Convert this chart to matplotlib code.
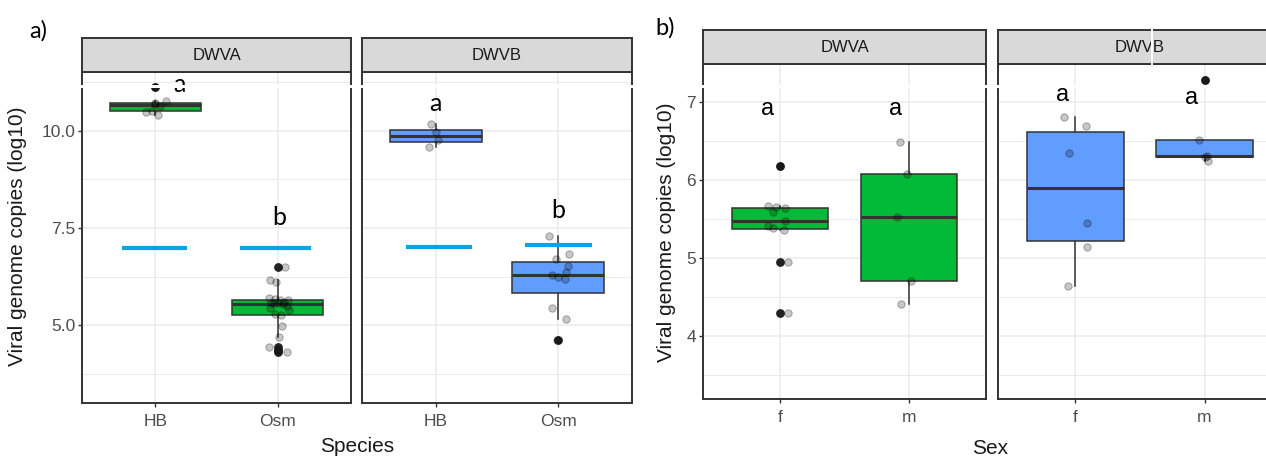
import matplotlib.pyplot as plt
from matplotlib.patches import Rectangle

# ---------------- data (log10 viral genome copies) ----------------
species = ['HB', 'Osm']
sexes = ['f', 'm']

# a) by species
a_dwva_hb = [11.13, 10.77, 10.71, 10.70, 10.63, 10.52, 10.48, 10.40]
a_dwva_osm = [6.49, 6.15, 6.11, 5.70, 5.68, 5.66, 5.64, 5.60, 5.58, 5.57, 5.56,
              5.55, 5.50, 5.44, 5.38, 5.28, 5.26, 4.97, 4.70, 4.44, 4.35, 4.31]
a_dwvb_hb = [10.18, 9.98, 9.77, 9.57]
a_dwvb_osm = [7.29, 6.83, 6.71, 6.52, 6.37, 6.29, 6.23, 6.20, 5.45, 5.15, 4.63]

# b) by sex
b_dwva_f = [6.18, 5.67, 5.65, 5.64, 5.59, 5.48, 5.41, 5.39, 5.36, 4.95, 4.29]
b_dwva_m = [6.49, 6.08, 5.52, 4.70, 4.41]
b_dwvb_f = [6.81, 6.70, 6.35, 5.45, 5.14, 4.64]
b_dwvb_m = [7.29, 6.52, 6.31, 6.29, 6.24]

# horizontal jitter of the points
jit_a_dwva_hb = [0.0, 0.085, -0.006, 0.0, 0.035, -0.03, -0.074, 0.02]
jit_a_dwva_osm = [0.06, -0.063, -0.014, -0.074, -0.025, 0.085, 0.02, 0.05, -0.03, 0.0, -0.055,
                  0.04, 0.074, -0.063, 0.095, -0.02, 0.03, 0.038, 0.011, -0.074, 0.0, 0.074]
jit_a_dwvb_hb = [-0.04, 0.0, 0.02, -0.054]
jit_a_dwvb_osm = [-0.08, 0.09, -0.016, 0.076, 0.065, -0.05, 0.0, 0.055, -0.055, 0.065, -0.01]
jit_b_dwva_f = [0.0, -0.093, -0.033, 0.037, -0.054, 0.041, -0.093, -0.052, 0.026, 0.06, 0.06]
jit_b_dwva_m = [-0.07, -0.013, -0.09, 0.02, -0.06]
jit_b_dwvb_f = [-0.09, 0.08, -0.05, 0.093, 0.093, -0.057]
jit_b_dwvb_m = [0.0, -0.04, 0.02, 0.0, 0.023]

# detection limit (blue bars) in panel a)
limit_a_dwva = [6.98, 6.98]
limit_a_dwvb = [7.02, 7.06]

# significance letters
letters_a_dwva = ['a', 'b']
letter_y_a_dwva = [11.19, 7.76]
letters_a_dwvb = ['a', 'b']
letter_y_a_dwvb = [10.69, 7.95]
letters_b_dwva = ['a', 'a']
letter_y_b_dwva = [6.91, 6.91]
letters_b_dwvb = ['a', 'a']
letter_y_b_dwvb = [7.09, 7.05]

GREEN = '#00BA38'
BLUE = '#619CFF'
LIMIT = '#0AA4E6'
DARK = '#333333'
GRID = '#EBEBEB'
FONT = 'Liberation Sans'

W, H = 1266, 459
fig = plt.figure(figsize=(W / 100, H / 100), dpi=100)
plt.rcParams['font.family'] = FONT


def px_axes(x0, y0, x1, y1):
    return fig.add_axes([x0 / W, 1 - y1 / H, (x1 - x0) / W, (y1 - y0) / H])


def strip(x0, y0, x1, y1, title):
    s = px_axes(x0, y0, x1, y1)
    s.set_facecolor('#D9D9D9')
    s.set_xticks([])
    s.set_yticks([])
    for sp in s.spines.values():
        sp.set_color(DARK)
        sp.set_linewidth(1.4)
    s.text(0.5, 0.5, title, transform=s.transAxes, ha='center', va='center',
           fontsize=12, color='#1A1A1A')


def facet(ax, series, jitters, fill, ylim, majors, minors, ticklabels, xlabels, show_y):
    ax.boxplot(series, positions=[1, 2], widths=0.75, patch_artist=True,
               showcaps=False, whis=1.5, zorder=2, manage_ticks=False,
               boxprops=dict(facecolor=fill, edgecolor=DARK, linewidth=1.1),
               medianprops=dict(color=DARK, linewidth=2.2),
               whiskerprops=dict(color=DARK, linewidth=1.1),
               flierprops=dict(marker='o', markerfacecolor='#222222',
                               markeredgecolor='#222222', markersize=5.3))
    for i, (vals, offs) in enumerate(zip(series, jitters)):
        ax.scatter([i + 1 + o for o in offs], vals, s=28, facecolor=(0, 0, 0, 0.22),
                   edgecolor=(0, 0, 0, 0.3), linewidth=0.7, zorder=3)
    ax.set_xlim(0.4, 2.6)
    ax.set_ylim(*ylim)
    ax.set_yticks(majors)
    ax.set_yticklabels(ticklabels)
    ax.set_yticks(minors, minor=True)
    ax.set_xticks([1, 2])
    ax.set_xticklabels(xlabels)
    ax.set_axisbelow(True)
    ax.grid(which='major', color=GRID, lw=1.1)
    ax.grid(which='minor', axis='y', color=GRID, lw=0.7)
    ax.tick_params(which='major', direction='out', length=3, width=1, color=DARK,
                   labelcolor='#4D4D4D', labelsize=12.5, pad=2)
    ax.tick_params(axis='x', pad=5)
    ax.tick_params(which='minor', length=0)
    if not show_y:
        ax.tick_params(axis='y', left=False, labelleft=False)
    for sp in ax.spines.values():
        sp.set_color(DARK)
        sp.set_linewidth(1.4)


# ---------------- panel a) ----------------
ylim_a = (3.0, 11.51)
maj_a = [5.0, 7.5, 10.0]
min_a = [3.75, 6.25, 8.75, 11.25]
lab_a = ['5.0', '7.5', '10.0']

ax1 = px_axes(82, 72, 351, 403)
facet(ax1, [a_dwva_hb, a_dwva_osm], [jit_a_dwva_hb, jit_a_dwva_osm], GREEN,
      ylim_a, maj_a, min_a, lab_a, species, True)
ax2 = px_axes(362, 72, 632, 403)
facet(ax2, [a_dwvb_hb, a_dwvb_osm], [jit_a_dwvb_hb, jit_a_dwvb_osm], BLUE,
      ylim_a, maj_a, min_a, lab_a, species, False)
strip(82, 38, 351, 72, 'DWVA')
strip(362, 38, 632, 72, 'DWVB')

for ax, lim, dx in [(ax1, limit_a_dwva, [(-0.27, 0.26), (-0.31, 0.27)]),
                    (ax2, limit_a_dwvb, [(-0.24, 0.3), (-0.27, 0.27)])]:
    for i, y in enumerate(lim):
        ax.hlines(y, i + 1 + dx[i][0], i + 1 + dx[i][1], color=LIMIT, lw=3, zorder=4)

for ax, letters, ys, xs in [(ax1, letters_a_dwva, letter_y_a_dwva, [1.2, 2.01]),
                            (ax2, letters_a_dwvb, letter_y_a_dwvb, [1.0, 2.0])]:
    for t, y, x in zip(letters, ys, xs):
        ax.text(x, y, t, ha='center', va='center', fontsize=18, family='Lato',
                color='black', zorder=5)

fig.text(18 / W, 1 - 236 / H, 'Viral genome copies (log10)', rotation=90,
         ha='center', va='center', fontsize=15, color='#1A1A1A')
fig.text(357 / W, 1 - 446 / H, 'Species', ha='center', va='center', fontsize=15,
         color='#1A1A1A')
fig.text(29 / W, 1 - 31 / H, 'a)', ha='left', va='center', fontsize=17,
         family='Lato', color='black')

# ---------------- panel b) ----------------
ylim_b = (3.19, 7.49)
maj_b = [4, 5, 6, 7]
min_b = [3.5, 4.5, 5.5, 6.5]
lab_b = ['4', '5', '6', '7']

ax3 = px_axes(703, 64, 986, 399)
facet(ax3, [b_dwva_f, b_dwva_m], [jit_b_dwva_f, jit_b_dwva_m], GREEN,
      ylim_b, maj_b, min_b, lab_b, sexes, True)
ax4 = px_axes(998, 64, 1282, 399)
facet(ax4, [b_dwvb_f, b_dwvb_m], [jit_b_dwvb_f, jit_b_dwvb_m], BLUE,
      ylim_b, maj_b, min_b, lab_b, sexes, False)
strip(703, 30, 986, 64, 'DWVA')
strip(998, 30, 1282, 64, 'DWVB')

for ax, letters, ys in [(ax3, letters_b_dwva, letter_y_b_dwva),
                        (ax4, letters_b_dwvb, letter_y_b_dwvb)]:
    for i, (t, y) in enumerate(zip(letters, ys)):
        ax.text(i + 1 - 0.1, y, t, ha='center', va='center', fontsize=17,
                color='black', zorder=5)

fig.text(666 / W, 1 - 232 / H, 'Viral genome copies (log10)', rotation=90,
         ha='center', va='center', fontsize=15, color='#1A1A1A')
fig.text(990 / W, 1 - 449 / H, 'Sex', ha='center', va='center', fontsize=15,
         color='#1A1A1A')
fig.text(655 / W, 1 - 28 / H, 'b)', ha='left', va='center', fontsize=17,
         family='Lato', color='black')

# white seams of the pasted-together original picture
fig.patches.append(Rectangle((0, 1 - 88 / H), 1, 2.5 / H, transform=fig.transFigure,
                             facecolor='white', edgecolor='none', zorder=10))
fig.patches.append(Rectangle((1151 / W, 1 - 66 / H), 2 / W, 38 / H,
                             transform=fig.transFigure, facecolor='white',
                             edgecolor='none', zorder=10))

fig.savefig('out.png', dpi=100)
